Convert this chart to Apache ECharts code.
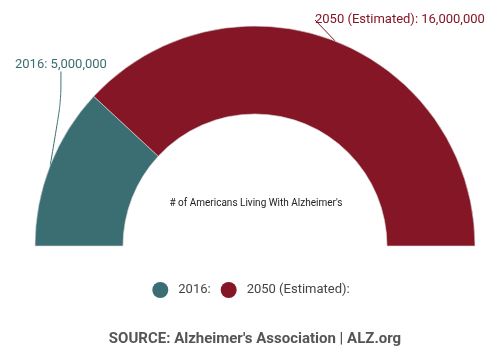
<!DOCTYPE html>
<html>
<head>
<meta charset="utf-8">
<script src="https://cdn.jsdelivr.net/npm/echarts@6/dist/echarts.min.js"></script>
<style>
html,body{margin:0;padding:0;background:#fff;}
#chart{width:502px;height:360px;}
</style>
</head>
<body>
<div id="chart"></div>
<script>
const categories = ['2016', '2050 (Estimated)'];
const values = [5000000, 16000000];
const colors = ['#3a6e72', '#841625'];
const centerText = "# of Americans Living With Alzheimer's";
const sourceText = "SOURCE: Alzheimer's Association | ALZ.org";

const fmt = v => v.toString().replace(/\B(?=(\d{3})+(?!\d))/g, ',');
const labelPos = [
  {x: 15, y: 65},
  {x: 315, y: 20}
];

const chart = echarts.init(document.getElementById('chart'));
chart.setOption({
  animation: false,
  color: colors,
  title: [
    {
      text: centerText,
      left: 251, top: 193,
      textAlign: 'center',
      textStyle: {fontFamily: 'Roboto', fontSize: 10, fontWeight: 'normal', color: '#222'}
    },
    {
      text: sourceText,
      left: 250, top: 327,
      textAlign: 'center',
      textStyle: {fontFamily: 'Roboto', fontSize: 15, fontWeight: 'bold', color: '#555'}
    }
  ],
  legend: {
    top: 277,
    left: 'center',
    icon: 'circle',
    itemWidth: 16,
    itemHeight: 16,
    itemGap: 10,
    itemStyle: {borderWidth: 0},
    formatter: name => name + ':',
    textStyle: {fontFamily: 'Roboto', fontSize: 13, color: '#444', padding: [0, 0, 0, 5]}
  },
  series: [{
    type: 'pie',
    center: [255, 246],
    radius: [132, 220],
    startAngle: 180,
    endAngle: 0,
    itemStyle: {borderColor: '#ddd', borderWidth: 0.6},
    label: {
      show: true,
      fontFamily: 'Roboto',
      fontSize: 13,
      overflow: 'none',
      formatter: p => p.name + ': ' + fmt(p.value)
    },
    labelLine: {show: true, smooth: 0.3, lineStyle: {width: 1}},
    labelLayout: p => ({
      x: labelPos[p.dataIndex].x,
      y: labelPos[p.dataIndex].y,
      align: 'left',
      verticalAlign: 'middle'
    }),
    data: categories.map((c, i) => ({
      name: c,
      value: values[i],
      label: {color: colors[i]},
      labelLine: {lineStyle: {color: colors[i]}}
    }))
  }]
});
</script>
</body>
</html>
